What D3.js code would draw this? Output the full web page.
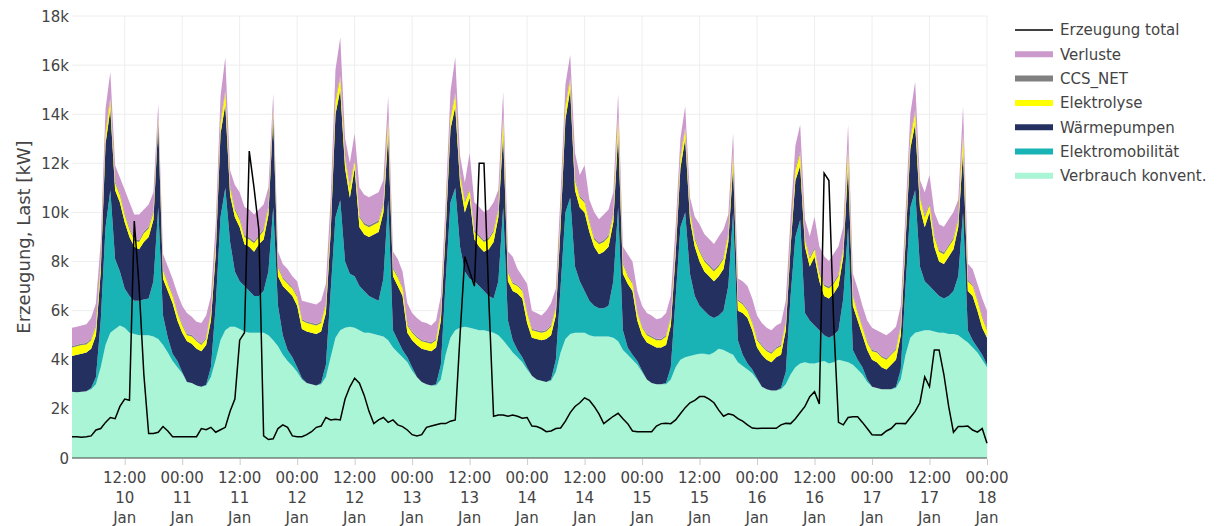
<!DOCTYPE html>
<html>
<head>
<meta charset="utf-8">
<script src="https://cdn.jsdelivr.net/npm/d3@7"></script>
<style>
body { margin: 0; background: #fff; }
text { font-family: "DejaVu Sans", Verdana, sans-serif; fill: #444; }
</style>
</head>
<body>
<div id="chart"></div>
<script>
var width = 1220;
var height = 526;
var plotLeft = 72, plotRight = 987, plotTop = 16, plotBottom = 458;

// Stundenwerte 10. Jan 01:00 bis 18. Jan 00:00, je Zeile ein Tag (kW)
var verbrauch = [
    2700,2680,2700,2720,2800,3000,3700,4600,5100,5250,5400,5300,5100,5050,5000,5000,5000,4950,4850,4600,4300,3950,3700,3450,
    3100,3050,2950,2900,2950,3300,4000,4800,5200,5350,5350,5250,5150,5100,5100,5100,5100,5000,4800,4550,4200,3950,3750,3500,
    3200,3050,3000,2950,3000,3300,4100,4900,5200,5300,5350,5300,5200,5100,5100,5050,5000,4950,4800,4500,4300,4100,3900,3550,
    3300,3100,3000,2950,2950,3200,4200,4900,5200,5300,5350,5300,5250,5200,5200,5150,5100,5000,4800,4550,4300,4100,3900,3600,
    3350,3200,3150,3100,3150,3500,4300,4850,5050,5100,5100,5100,5000,4950,4950,4950,4950,4900,4750,4400,4200,4000,3800,3500,
    3200,3050,3000,3000,3000,3200,3700,4000,4100,4150,4200,4250,4250,4200,4300,4450,4400,4300,4200,3900,3750,3600,3450,3200,
    2900,2800,2750,2750,2800,3000,3400,3700,3850,3900,3850,3850,3900,3950,3850,3900,4000,3950,3900,3800,3600,3400,3100,2900,
    2850,2800,2800,2800,2850,3200,4200,4900,5100,5150,5200,5200,5150,5100,5100,5050,5050,5000,4850,4700,4500,4300,4000,3700
];
var elektromobilitaet = [
    0,0,0,0,50,300,1900,4800,5800,2850,2200,1600,1500,1350,1400,1450,1500,2250,5350,1200,600,300,250,50,
    0,0,0,0,30,400,2200,5000,5800,3450,2250,1950,1850,1700,1500,1500,1700,2600,5400,1650,800,450,350,200,
    50,0,0,0,50,500,2700,4900,5300,2700,2150,2100,1800,1700,1500,1450,1400,2350,5700,700,500,300,200,150,
    0,0,0,0,50,600,3000,5500,5800,3300,2250,2000,1950,1800,1600,1450,1400,2200,5400,1050,500,300,200,100,
    0,0,0,0,50,500,2700,5150,5550,2700,2100,1700,1400,1250,1150,1150,1250,2300,5450,800,300,200,150,50,
    0,0,0,0,50,500,2800,5400,5900,3350,2400,1950,1750,1600,1400,1350,1600,2700,5800,900,450,250,150,50,
    0,0,0,0,50,500,3200,5300,5850,2000,1750,1550,1300,1050,1050,1100,1200,2550,5500,600,400,300,100,0,
    0,0,0,0,50,400,2800,5300,5800,2650,2000,1800,1650,1500,1400,1550,1750,2400,5150,500,300,200,200,100
];
var waermepumpen = [
    1450,1520,1550,1580,1600,1700,2000,3400,3300,2800,2800,2700,2400,2200,2100,2350,2500,2500,3400,1500,1900,2050,1650,1600,
    1650,1600,1500,1450,1620,1900,2100,3400,3400,1900,2200,2200,1700,1800,1800,2100,2100,2300,3700,1200,2000,2400,2500,2500,
    2000,2100,2100,2100,2100,2100,2400,4200,4500,3800,3100,4400,2400,2300,2400,2600,2800,2700,2700,2200,2200,2200,1000,1100,
    1300,1350,1400,1400,1500,1800,2000,3000,3300,2600,2400,3300,1700,1600,1600,1900,2300,2600,3000,1600,2000,2300,2400,1800,
    1550,1650,1650,1750,1800,1800,2500,3800,4400,3100,3000,3200,2800,2400,2200,2300,2400,2400,3000,2300,2600,2600,1650,1450,
    1500,1550,1500,1500,1550,1700,1800,2400,3000,2200,2000,1800,1600,1600,1500,1600,1700,1800,1900,1200,1700,1850,1600,1250,
    1300,1200,1150,1350,1350,1700,2000,2300,2200,2700,2200,2800,2000,1600,1600,1700,1800,1700,2500,1800,1600,1300,1200,1100,
    1050,900,800,1000,1100,1400,1800,2400,2700,2400,2200,3000,1800,1400,1400,1600,1700,2000,2500,1600,1800,1500,1100,1100
];
var elektrolyse = [
    350,350,350,320,350,350,350,400,400,300,300,300,300,250,300,350,350,300,250,350,300,300,300,300,
    250,300,300,250,250,300,350,400,500,300,300,300,300,300,350,300,350,300,300,350,300,300,300,350,
    350,350,350,350,350,350,400,500,500,400,400,300,400,400,400,400,400,300,600,300,350,300,300,300,
    300,300,300,300,300,300,400,400,500,300,400,300,300,400,400,400,400,300,700,350,300,300,300,400,
    300,300,300,300,350,300,400,500,400,400,400,400,400,300,400,400,400,300,700,400,300,300,300,300,
    300,300,300,300,350,300,300,400,400,300,300,400,400,400,400,400,400,300,500,400,350,300,300,300,
    350,350,350,350,350,300,300,400,500,300,300,300,300,400,400,400,400,300,700,400,300,300,300,350,
    400,400,400,400,400,350,400,400,500,400,400,300,400,400,400,400,400,300,700,400,400,400,400,300
];
var ccsNet = [
    60,60,60,60,60,60,70,80,80,80,80,80,80,80,80,80,80,80,80,70,60,60,60,60,
    60,60,60,60,60,60,70,80,80,80,80,80,80,80,80,80,80,80,80,70,60,60,60,60,
    60,60,60,60,60,60,70,80,80,80,80,80,80,80,80,80,80,80,80,70,60,60,60,60,
    60,60,60,60,60,60,70,80,80,80,80,80,80,80,80,80,80,80,80,70,60,60,60,60,
    60,60,60,60,60,60,70,80,80,80,80,80,80,80,80,80,80,80,80,70,60,60,60,60,
    60,60,60,60,60,60,70,80,80,80,80,80,80,80,80,80,80,80,80,70,60,60,60,60,
    60,60,60,60,60,60,70,80,80,80,80,80,80,80,80,80,80,80,80,70,60,60,60,60,
    60,60,60,60,60,60,70,80,80,80,80,80,80,80,80,80,80,80,80,70,60,60,60,60
];
var verluste = [
    740,740,740,770,840,890,790,940,1040,640,640,940,1040,990,1040,890,890,740,490,590,640,640,740,740,
    840,740,740,840,890,640,790,1040,1340,640,940,1040,1140,1140,1090,1040,990,740,540,590,540,540,440,590,
    740,790,790,790,840,790,940,1240,1540,740,940,1040,1140,1140,1140,1140,1140,940,840,640,690,640,840,740,
    740,740,740,690,740,640,740,1040,1440,740,740,1440,1140,1140,1140,1140,1140,740,940,790,1040,640,540,1140,
    740,690,640,790,890,740,840,840,940,1040,840,1440,840,1040,940,1040,1040,840,840,640,840,840,840,840,
    840,840,790,840,890,840,740,740,840,540,840,1040,1040,1040,1040,1140,1140,740,740,840,890,940,940,940,
    890,890,890,890,890,840,840,940,1090,740,840,1240,1040,1140,1040,1140,1140,840,890,840,940,840,840,890,
    840,940,940,890,890,790,740,940,1140,640,940,1140,940,1040,1040,1040,1040,740,1040,640,640,640,740,740
];
var erzeugung = [
    870,870,850,870,900,1140,1200,1450,1650,1600,2100,2400,2350,9650,7000,3400,1000,1000,1050,1280,1100,870,870,870,
    870,870,870,1200,1150,1250,1050,1150,1250,1900,2400,4800,5100,12500,11000,9300,900,750,780,1200,1350,1250,900,870,
    870,950,1070,1250,1300,1650,1550,1580,1550,2400,2900,3250,3050,2550,1900,1400,1550,1650,1450,1550,1350,1280,1140,950,
    900,950,1250,1300,1350,1400,1400,1500,1550,5000,8200,7600,7000,12000,12000,6500,1700,1750,1750,1700,1750,1700,1620,1650,
    1300,1280,1200,1070,1100,1200,1220,1500,1850,2100,2250,2450,2350,2100,1800,1400,1550,1700,1820,1600,1400,1100,1070,1070,
    1070,1070,1300,1400,1420,1400,1550,1800,2050,2250,2350,2500,2500,2400,2250,1950,1700,1800,1750,1600,1500,1350,1220,1200,
    1210,1210,1210,1210,1350,1410,1400,1600,1850,2100,2500,2700,2200,11600,11300,5500,1450,1350,1650,1680,1680,1450,1200,950,
    940,940,1100,1200,1410,1410,1400,1650,1900,2250,3300,2900,4400,4400,3400,2100,1050,1280,1280,1300,1140,1050,1200,600
];

var times = d3.utcHours(new Date(Date.UTC(2022, 0, 10, 1)), new Date(Date.UTC(2022, 0, 18, 0, 1)));
var yTicks = [0, 2000, 4000, 6000, 8000, 10000, 12000, 14000, 16000, 18000];

var series = [
    {key: "verbrauch", name: "Verbrauch konvent.", values: verbrauch, color: "#a9f5d6"},
    {key: "emob", name: "Elektromobilität", values: elektromobilitaet, color: "#1ab3b5"},
    {key: "wp", name: "Wärmepumpen", values: waermepumpen, color: "#233060"},
    {key: "elyse", name: "Elektrolyse", values: elektrolyse, color: "#ffff00"},
    {key: "ccs", name: "CCS_NET", values: ccsNet, color: "#808080"},
    {key: "verl", name: "Verluste", values: verluste, color: "#cc99cc"}
];

var rows = times.map(function(t, i) {
    var r = {t: t, total: erzeugung[i]};
    series.forEach(function(s) { r[s.key] = s.values[i]; });
    return r;
});

var svg = d3.select("#chart")
            .append("svg")
            .attr("width", width)
            .attr("height", height);

var x = d3.scaleUtc()
    .domain([times[0], times[times.length - 1]])
    .range([plotLeft, plotRight]);

var y = d3.scaleLinear()
    .domain([0, 18000])
    .range([plotBottom, plotTop]);

var xTicks = d3.utcHours(new Date(Date.UTC(2022, 0, 10, 12)), new Date(Date.UTC(2022, 0, 18, 0, 1)), 12);

// grid
svg.append("g").selectAll("line")
    .data(xTicks)
    .enter()
    .append("line")
    .attr("x1", function(d) { return x(d); })
    .attr("x2", function(d) { return x(d); })
    .attr("y1", plotTop)
    .attr("y2", plotBottom)
    .attr("stroke", "#eee");

svg.append("g").selectAll("line")
    .data(yTicks.slice(1))
    .enter()
    .append("line")
    .attr("x1", plotLeft)
    .attr("x2", plotRight)
    .attr("y1", function(d) { return y(d); })
    .attr("y2", function(d) { return y(d); })
    .attr("stroke", "#eee");

// stacked areas
var stack = d3.stack().keys(series.map(function(s) { return s.key; }));
var layers = stack(rows);

var area = d3.area()
    .x(function(d) { return x(d.data.t); })
    .y0(function(d) { return y(d[0]); })
    .y1(function(d) { return y(d[1]); });

svg.append("g").selectAll("path")
    .data(layers)
    .enter()
    .append("path")
    .attr("d", area)
    .attr("fill", function(d, i) { return series[i].color; });

// zero line
svg.append("line")
    .attr("x1", plotLeft)
    .attr("x2", plotRight)
    .attr("y1", y(0))
    .attr("y2", y(0))
    .attr("stroke", "#444")
    .attr("stroke-width", 1);

var line = d3.line()
    .x(function(d) { return x(d.t); })
    .y(function(d) { return y(d.total); });

svg.append("path")
    .datum(rows)
    .attr("d", line)
    .attr("fill", "none")
    .attr("stroke", "#000")
    .attr("stroke-width", 1.5);

// x axis
var xAxis = svg.append("g")
    .attr("transform", "translate(0," + plotBottom + ")")
    .call(d3.axisBottom(x).tickValues(xTicks).tickSize(6).tickFormat(""));
xAxis.select(".domain").remove();
xAxis.selectAll(".tick line").attr("stroke", "#ccc").attr("transform", "translate(0,1)");

var fmts = [d3.utcFormat("%H:%M"), d3.utcFormat("%d"), d3.utcFormat("%b")];
var xl = svg.append("g").selectAll("text")
    .data(xTicks)
    .enter()
    .append("text")
    .attr("text-anchor", "middle")
    .style("font-size", "15px");
fmts.forEach(function(f, k) {
    xl.append("tspan")
        .attr("x", function(d) { return x(d); })
        .attr("y", 482.5 + k * 20)
        .text(function(d) { return f(d); });
});

// y axis labels
svg.append("g").selectAll("text")
    .data(yTicks)
    .enter()
    .append("text")
    .attr("x", 69)
    .attr("y", function(d) { return y(d) + 5.5; })
    .attr("text-anchor", "end")
    .style("font-size", "15px")
    .text(function(d) { return d === 0 ? "0" : (d / 1000) + "k"; });

svg.append("text")
    .attr("transform", "translate(30," + ((plotTop + plotBottom) / 2) + ") rotate(-90)")
    .attr("text-anchor", "middle")
    .style("font-size", "18px")
    .text("Erzeugung, Last [kW]");

// legend
var legendItems = [{name: "Erzeugung total", color: "#000", line: true}]
    .concat(series.slice().reverse());

var lg = svg.append("g").selectAll("g")
    .data(legendItems)
    .enter()
    .append("g")
    .attr("transform", function(d, i) { return "translate(1015," + (30 + i * 24.3) + ")"; });

lg.append("line")
    .attr("x1", 0)
    .attr("x2", 38)
    .attr("stroke", function(d) { return d.color; })
    .attr("stroke-width", function(d) { return d.line ? 1.5 : 6; });

lg.append("text")
    .attr("x", 45)
    .attr("y", 5.3)
    .style("font-size", "15px")
    .text(function(d) { return d.name; });
</script>
</body>
</html>
